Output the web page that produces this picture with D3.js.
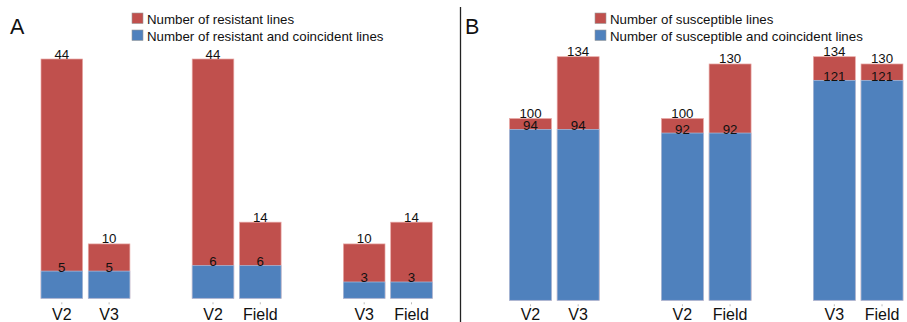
<!DOCTYPE html>
<html><head><meta charset="utf-8">
<script src="https://cdn.jsdelivr.net/npm/d3@7"></script>
<style>body{margin:0;background:#fff}svg{display:block;font-family:"Liberation Sans",Arial,sans-serif}</style>
</head><body><svg id="c" width="907" height="322"></svg>
<script>
// Panel A data
const groupsA = [["V2","V3"],["V2","Field"],["V3","Field"]];
const resistantTotal = [[44,10],[44,14],[10,14]];
const resistantCoincident = [[5,5],[6,6],[3,3]];
// Panel B data
const groupsB = [["V2","V3"],["V2","Field"],["V3","Field"]];
const susceptibleTotal = [[100,134],[100,130],[134,130]];
const susceptibleCoincident = [[94,94],[92,92],[121,121]];
const legendA = ["Number of resistant lines","Number of resistant and coincident lines"];
const legendB = ["Number of susceptible lines","Number of susceptible and coincident lines"];

const RED = "#C0504D", BLUE = "#4F81BD";
const svg = d3.select("#c");

function panel(opts){
  const {groups, totals, coinc, xr, yr, ymax, letter, letterX, legend, legX} = opts;
  const g = svg.append("g");
  const x0 = d3.scaleBand().domain(d3.range(groups.length)).range(xr).paddingInner(opts.pad).paddingOuter(0);
  const x1 = d3.scaleBand().domain([0,1]).range([0, x0.bandwidth()]).paddingInner(0.12).paddingOuter(0);
  const y = d3.scaleLinear().domain([0, ymax]).range(yr);
  const items = [];
  groups.forEach((grp,gi)=>grp.forEach((lab,bi)=>items.push({lab, gi, bi, t: totals[gi][bi], c: coinc[gi][bi]})));
  const bx = d => x0(d.gi) + x1(d.bi);
  g.selectAll(".r").data(items).join("rect")
    .attr("x", bx).attr("width", x1.bandwidth())
    .attr("y", d=>y(d.t)).attr("height", d=>y(0)-y(d.t))
    .attr("fill", RED).attr("stroke","#e8a8a6").attr("stroke-width",0.7);
  g.selectAll(".b").data(items).join("rect")
    .attr("x", bx).attr("width", x1.bandwidth())
    .attr("y", d=>y(d.c)).attr("height", d=>y(0)-y(d.c))
    .attr("fill", BLUE).attr("stroke","#a9c2e2").attr("stroke-width",0.7);
  g.selectAll(".tl").data(items).join("text")
    .attr("x", d=>bx(d)+x1.bandwidth()/2).attr("y", d=>y(d.t)-0.5)
    .attr("text-anchor","middle").attr("font-size",13.3).attr("fill","#111").text(d=>d.t);
  g.selectAll(".cl").data(items).join("text")
    .attr("x", d=>bx(d)+x1.bandwidth()/2).attr("y", d=>y(d.c)+0.5)
    .attr("text-anchor","middle").attr("font-size",13.3).attr("fill","#111").text(d=>d.c);
  g.selectAll(".tk").data(items).join("line")
    .attr("x1", d=>bx(d)+x1.bandwidth()/2).attr("x2", d=>bx(d)+x1.bandwidth()/2)
    .attr("y1", y(0)+4).attr("y2", y(0)+6).attr("stroke","#bbb").attr("stroke-width",1);
  g.selectAll(".xl").data(items).join("text")
    .attr("x", d=>bx(d)+x1.bandwidth()/2).attr("y", 320)
    .attr("text-anchor","middle").attr("font-size",16).attr("fill","#111").text(d=>d.lab);
  g.append("text").attr("x", letterX).attr("y", 34).attr("font-size",21.5).attr("fill","#111").text(letter);
  const lg = g.append("g");
  legend.forEach((t,i)=>{
    lg.append("rect").attr("x", legX).attr("y", 13 + i*17).attr("width",11).attr("height",10.5)
      .attr("fill", i===0?RED:BLUE).attr("stroke","#999").attr("stroke-width",0.6);
    lg.append("text").attr("x", legX+15).attr("y", 23.5 + i*17).attr("font-size",13.3).attr("fill","#111").text(t);
  });
}

panel({groups: groupsA, totals: resistantTotal, coinc: resistantCoincident,
  xr:[41,432.3], pad:0.412, yr:[298.3,59], ymax:44, letter:"A", letterX:10, legend:legendA, legX:132});
panel({groups: groupsB, totals: susceptibleTotal, coinc: susceptibleCoincident,
  xr:[509.5,903], pad:0.41, yr:[300.3,56.7], ymax:134, letter:"B", letterX:465, legend:legendB, legX:595});

svg.append("line").attr("x1",460.5).attr("x2",460.5).attr("y1",7).attr("y2",322).attr("stroke","#222").attr("stroke-width",1.3);
</script></body></html>
